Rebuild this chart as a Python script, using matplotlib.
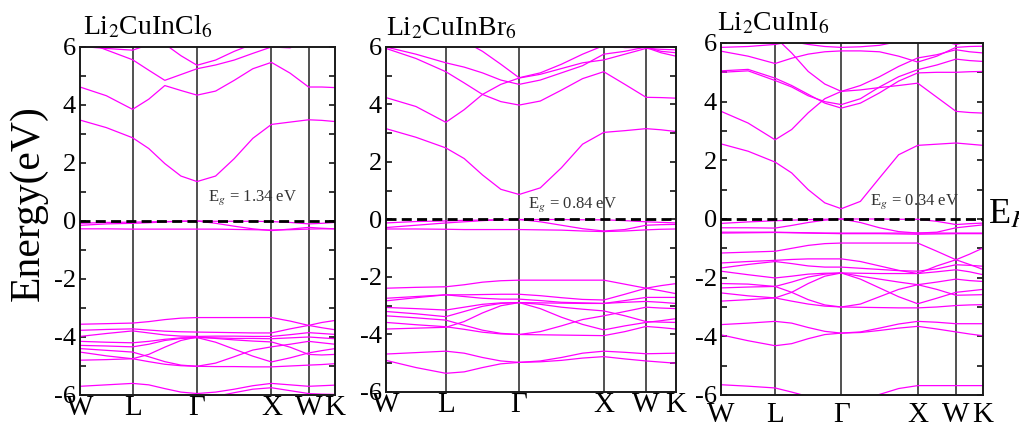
import matplotlib.pyplot as plt
from matplotlib.ticker import MultipleLocator

plt.rcParams['font.family'] = 'Liberation Serif'
plt.rcParams['mathtext.fontset'] = 'stix'
plt.rcParams['axes.unicode_minus'] = False

# k-path W-L-G-X-W-K (fcc), distances in 2pi/a
kpath = [0, 0.354, 0.707, 0.924, 1.140, 1.357, 1.573, 1.823, 2.073, 2.323,
         2.573, 2.823, 3.073, 3.250, 3.427]
sym_k = [0, 0.707, 1.573, 2.573, 3.073, 3.427]
sym_labels = ['W', 'L', '\u0393', 'X', 'W', 'K']

# Li2CuInCl6 bands (eV), values at kpath points
cl_bands = [
    [3.48, 3.22, 2.87, 2.50, 1.98, 1.55, 1.36, 1.55, 2.15, 2.85, 3.33, 3.41, 3.49, 3.47, 3.43],
    [4.62, 4.32, 3.85, 4.20, 4.67, 4.50, 4.34, 4.48, 4.85, 5.25, 5.47, 5.10, 4.62, 4.62, 4.60],
    [6.25, 5.90, 5.56, 5.20, 4.85, 5.05, 5.25, 5.38, 5.55, 5.78, 6.00, 5.97, 6.20, 6.30, 6.30],
    [6.02, 5.95, 5.89, 6.08, 6.10, 5.70, 5.37, 5.55, 5.85, 6.10, 6.30, 6.40, 6.40, 6.40, 6.40],
    [-0.08, -0.05, -0.04, -0.03, -0.02, -0.01, 0.00, -0.01, -0.01, -0.01, -0.02, -0.05, -0.10, -0.08, -0.05],
    [-0.15, -0.10, -0.08, -0.06, -0.03, -0.01, 0.00, -0.08, -0.18, -0.27, -0.33, -0.28, -0.22, -0.25, -0.27],
    [-0.27, -0.27, -0.28, -0.28, -0.28, -0.28, -0.28, -0.28, -0.29, -0.30, -0.31, -0.30, -0.28, -0.27, -0.27],
    [-3.56, -3.54, -3.52, -3.47, -3.40, -3.35, -3.33, -3.33, -3.33, -3.33, -3.33, -3.45, -3.60, -3.68, -3.75],
    [-3.77, -3.74, -3.72, -3.76, -3.80, -3.82, -3.83, -3.84, -3.85, -3.86, -3.86, -3.72, -3.60, -3.50, -3.43],
    [-3.98, -3.88, -3.79, -3.86, -3.93, -3.97, -3.98, -3.97, -3.97, -3.98, -3.98, -3.92, -3.85, -3.88, -3.91],
    [-4.15, -4.18, -4.20, -4.15, -4.08, -4.03, -4.02, -4.03, -4.05, -4.05, -4.06, -4.03, -4.00, -4.03, -4.06],
    [-4.29, -4.31, -4.34, -4.25, -4.12, -4.05, -4.02, -4.18, -4.42, -4.66, -4.86, -4.72, -4.55, -4.47, -4.40],
    [-4.40, -4.46, -4.52, -4.68, -4.85, -4.97, -5.01, -4.90, -4.68, -4.45, -4.34, -4.25, -4.15, -4.20, -4.25],
    [-4.52, -4.65, -4.75, -4.85, -4.94, -4.99, -5.01, -5.02, -5.02, -5.03, -5.03, -5.00, -4.97, -4.95, -4.92],
    [-4.80, -4.78, -4.75, -4.60, -4.35, -4.12, -4.00, -4.05, -4.10, -4.14, -4.17, -4.35, -4.60, -4.62, -4.60],
    [-5.70, -5.65, -5.60, -5.65, -5.78, -5.90, -5.95, -5.90, -5.80, -5.68, -5.60, -5.65, -5.70, -5.68, -5.66],
    [-6.10, -6.15, -6.20, -6.25, -6.25, -6.20, -6.15, -6.05, -5.92, -5.80, -5.75, -5.85, -5.95, -5.97, -5.98],
]

# Li2CuInBr6
br_bands = [
    [3.16, 2.86, 2.49, 2.12, 1.55, 1.05, 0.87, 1.10, 1.80, 2.62, 3.03, 3.09, 3.16, 3.12, 3.06],
    [4.24, 3.93, 3.38, 3.82, 4.35, 4.70, 4.92, 5.05, 5.25, 5.45, 5.55, 5.75, 5.95, 5.92, 5.90],
    [5.95, 5.60, 5.14, 4.75, 4.35, 4.10, 3.98, 4.12, 4.50, 4.90, 5.14, 4.70, 4.25, 4.24, 4.22],
    [6.00, 5.75, 5.45, 5.30, 5.10, 4.85, 4.70, 4.85, 5.10, 5.35, 5.75, 5.85, 6.00, 5.85, 5.80],
    [6.50, 6.40, 6.30, 6.20, 5.85, 5.40, 4.93, 5.10, 5.40, 5.75, 6.05, 5.98, 5.98, 5.80, 5.68],
    [-0.12, -0.07, -0.05, -0.03, -0.02, -0.01, 0.00, 0.00, 0.00, -0.01, -0.01, -0.04, -0.08, -0.10, -0.12],
    [-0.28, -0.20, -0.12, -0.08, -0.04, -0.01, 0.00, -0.08, -0.20, -0.32, -0.40, -0.35, -0.20, -0.18, -0.17],
    [-0.33, -0.33, -0.34, -0.35, -0.35, -0.35, -0.35, -0.36, -0.37, -0.40, -0.42, -0.40, -0.36, -0.34, -0.33],
    [-2.39, -2.36, -2.34, -2.27, -2.18, -2.13, -2.11, -2.11, -2.11, -2.11, -2.11, -2.25, -2.39, -2.48, -2.58],
    [-2.74, -2.68, -2.62, -2.62, -2.61, -2.60, -2.60, -2.65, -2.72, -2.78, -2.80, -2.60, -2.39, -2.30, -2.23],
    [-2.83, -2.72, -2.62, -2.68, -2.74, -2.77, -2.77, -2.82, -2.88, -2.90, -2.92, -2.82, -2.71, -2.71, -2.71],
    [-3.06, -3.10, -3.15, -3.05, -2.95, -2.90, -2.89, -2.90, -2.91, -2.92, -2.92, -2.88, -2.85, -2.88, -2.92],
    [-3.20, -3.28, -3.38, -3.20, -3.02, -2.92, -2.89, -3.10, -3.40, -3.65, -3.84, -3.70, -3.58, -3.52, -3.45],
    [-3.35, -3.42, -3.50, -3.68, -3.85, -3.96, -4.00, -3.90, -3.70, -3.48, -3.35, -3.20, -3.05, -3.08, -3.10],
    [-3.58, -3.66, -3.73, -3.82, -3.92, -3.98, -4.00, -4.01, -4.02, -4.03, -4.04, -3.90, -3.72, -3.76, -3.81],
    [-3.81, -3.78, -3.75, -3.55, -3.25, -3.00, -2.89, -2.95, -3.05, -3.12, -3.18, -3.35, -3.55, -3.57, -3.58],
    [-4.68, -4.63, -4.58, -4.65, -4.80, -4.92, -4.97, -4.92, -4.80, -4.65, -4.58, -4.62, -4.67, -4.66, -4.65],
    [-4.90, -5.15, -5.35, -5.30, -5.15, -5.02, -4.97, -4.95, -4.90, -4.82, -4.77, -4.85, -4.92, -4.96, -5.00],
]

# Li2CuInI6
i_bands = [
    [2.56, 2.31, 1.94, 1.57, 1.00, 0.55, 0.35, 0.60, 1.40, 2.19, 2.51, 2.55, 2.59, 2.55, 2.51],
    [3.67, 3.27, 2.70, 3.05, 3.62, 4.10, 4.35, 4.40, 4.48, 4.55, 4.63, 4.15, 3.67, 3.63, 3.61],
    [5.05, 5.10, 4.80, 4.55, 4.25, 3.95, 3.78, 3.95, 4.30, 4.70, 4.98, 5.00, 5.00, 5.02, 5.03],
    [5.00, 5.05, 4.72, 4.50, 4.20, 4.00, 3.90, 4.10, 4.50, 4.85, 5.09, 5.25, 5.45, 5.40, 5.37],
    [6.30, 6.25, 6.20, 5.66, 5.03, 4.60, 4.35, 4.55, 4.85, 5.20, 5.49, 5.60, 5.77, 5.70, 5.66],
    [5.72, 5.55, 5.30, 5.48, 5.62, 5.70, 5.73, 5.73, 5.70, 5.55, 5.35, 5.55, 5.85, 5.88, 5.89],
    [5.85, 5.88, 5.95, 6.05, 5.95, 5.88, 5.85, 5.87, 5.92, 6.05, 6.20, 6.10, 5.95, 6.05, 6.10],
    [-0.15, -0.10, -0.06, -0.04, -0.02, -0.01, 0.00, 0.00, 0.00, -0.01, -0.01, -0.08, -0.19, -0.16, -0.14],
    [-0.30, -0.30, -0.31, -0.22, -0.12, -0.04, 0.00, -0.12, -0.30, -0.43, -0.48, -0.45, -0.30, -0.25, -0.20],
    [-0.45, -0.45, -0.45, -0.46, -0.47, -0.48, -0.48, -0.48, -0.48, -0.48, -0.48, -0.48, -0.48, -0.48, -0.48],
    [-0.48, -0.47, -0.46, -0.47, -0.48, -0.49, -0.50, -0.50, -0.50, -0.51, -0.52, -0.51, -0.50, -0.50, -0.50],
    [-1.16, -1.13, -1.10, -1.00, -0.90, -0.84, -0.82, -0.82, -0.82, -0.82, -0.82, -1.10, -1.39, -1.55, -1.72],
    [-1.50, -1.45, -1.41, -1.38, -1.36, -1.36, -1.36, -1.45, -1.60, -1.75, -1.86, -1.60, -1.39, -1.20, -0.99],
    [-1.67, -1.55, -1.45, -1.52, -1.60, -1.64, -1.64, -1.68, -1.72, -1.76, -1.78, -1.70, -1.56, -1.58, -1.61],
    [-1.78, -1.90, -2.01, -1.95, -1.88, -1.85, -1.84, -1.85, -1.86, -1.86, -1.86, -1.80, -1.73, -1.80, -1.90],
    [-2.20, -2.22, -2.30, -2.15, -1.98, -1.88, -1.84, -2.05, -2.35, -2.65, -2.89, -2.70, -2.50, -2.45, -2.40],
    [-2.35, -2.32, -2.30, -2.50, -2.75, -2.93, -3.00, -2.90, -2.65, -2.40, -2.24, -2.15, -2.05, -2.10, -2.13],
    [-2.52, -2.62, -2.69, -2.80, -2.90, -2.97, -3.00, -3.01, -3.02, -3.03, -3.03, -3.00, -2.95, -2.93, -2.92],
    [-2.80, -2.75, -2.69, -2.50, -2.20, -1.95, -1.84, -1.95, -2.05, -2.15, -2.24, -2.40, -2.60, -2.59, -2.58],
    [-3.60, -3.55, -3.49, -3.55, -3.70, -3.83, -3.89, -3.85, -3.72, -3.58, -3.49, -3.52, -3.57, -3.57, -3.57],
    [-3.95, -4.15, -4.32, -4.25, -4.08, -3.94, -3.89, -3.87, -3.80, -3.72, -3.66, -3.75, -3.85, -3.92, -3.98],
    [-5.65, -5.70, -5.76, -5.90, -6.05, -6.25, -6.35, -6.25, -5.98, -5.78, -5.68, -5.68, -5.68, -5.68, -5.68],
]

titles = [r'Li$_2$CuInCl$_6$', r'Li$_2$CuInBr$_6$', r'Li$_2$CuInI$_6$']
gaps = ['1.34', '0.84', '0.34']
gap_pos = [(1.72, 0.72), (1.68, 0.42), (1.95, 0.49)]

fig = plt.figure(figsize=(10.19, 4.23), dpi=100)
ax1 = fig.add_axes([0.0785, 0.0662, 0.2502, 0.8227])
ax2 = fig.add_axes([0.3788, 0.0733, 0.2846, 0.8156])
ax3 = fig.add_axes([0.7076, 0.0662, 0.2571, 0.8322])
axs = [ax1, ax2, ax3]
title_x = [0.01, 0.0, -0.015]
xpad = [0, 0, 5]

for n, (ax, bands) in enumerate(zip(axs, [cl_bands, br_bands, i_bands])):
    for b in bands:
        ax.plot(kpath, b, color='#ff00ff', lw=0.9, zorder=2)
    for k in sym_k[1:-1]:
        ax.axvline(k, color='#222222', lw=1.1, zorder=1)
    ax.axhline(0, color='black', lw=2.0, ls=(0, (3.6, 1.9)), zorder=3)
    ax.set_xlim(0, sym_k[-1])
    ax.set_ylim(-6, 6)
    ax.set_xticks(sym_k)
    ax.set_xticklabels(sym_labels, fontsize=21)
    ax.tick_params(axis='x', length=0, pad=xpad[n])
    ax.yaxis.set_major_locator(MultipleLocator(2))
    ax.yaxis.set_minor_locator(MultipleLocator(1))
    ax.tick_params(axis='y', which='both', direction='in', left=True, right=True,
                   length=4, width=1.1, labelsize=19, pad=3)
    for s in ax.spines.values():
        s.set_linewidth(1.4)
        s.set_color('#1a1a1a')
    ax.text(title_x[n], 1.035, titles[n], transform=ax.transAxes, fontsize=20,
            va='baseline')
    ax.text(gap_pos[n][0], gap_pos[n][1], r'E$_g$ = ' + gaps[n] + ' eV', fontsize=12,
            color='#333333')

fig.text(0.028, 0.52, 'Energy(eV)', rotation=90, fontsize=30, va='center', ha='center')
fig.text(0.970, 0.473, r'E$_F$', fontsize=26, va='baseline')

fig.savefig('out.png', dpi=100)
